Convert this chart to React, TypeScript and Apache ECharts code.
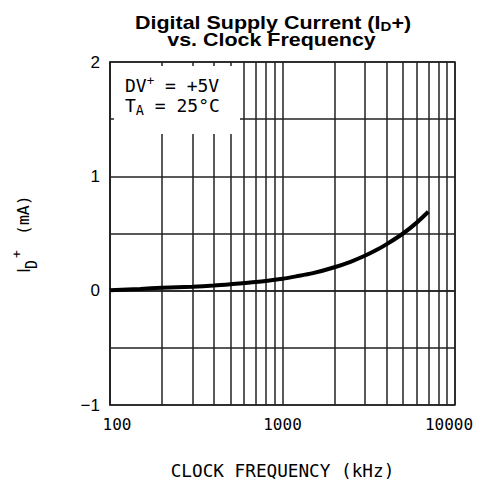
import React, { useEffect, useRef } from "react";
import * as echarts from "echarts";

const freqs = [100, 150, 200, 300, 400, 500, 700, 1000, 1200, 1500, 2000, 2500, 3000, 3500, 4000, 5000, 6000, 7000];
const currents = [0.003, 0.015, 0.025, 0.035, 0.045, 0.056, 0.075, 0.105, 0.125, 0.153, 0.205, 0.255, 0.305, 0.355, 0.405, 0.5, 0.595, 0.69];
const minorFreqs = [200, 300, 400, 500, 600, 700, 800, 900, 2000, 3000, 4000, 5000, 6000, 7000, 8000, 9000];
const xTickLabels: Record<number, string> = { 100: "100", 1000: "1000", 10000: "10000" };
const yTickLabels: Record<string, string> = { "-1": "\u22121", "0": "0", "1": "1", "2": "2" };

const MONO = "DejaVu Sans Mono";
const SANS = "Liberation Sans";
const LINE = "#222";

export default function App() {
  const ref = useRef<HTMLDivElement>(null);
  useEffect(() => {
    if (!ref.current) return;
    document.body.style.margin = "0";
    const chart = echarts.init(ref.current, null, { renderer: "svg" });
    chart.setOption({
      animation: false,
      grid: {
        left: 110,
        right: 26,
        top: 62,
        bottom: 79,
        show: true,
        borderColor: LINE,
        borderWidth: 1.5,
        backgroundColor: "transparent",
      },
      xAxis: {
        type: "log",
        logBase: 10,
        min: 100,
        max: 10000,
        axisLine: { show: true, lineStyle: { color: LINE, width: 1.5 } },
        axisTick: { show: false },
        splitLine: { show: true, lineStyle: { color: LINE, width: 1.5 } },
        axisLabel: {
          margin: 11,
          fontFamily: MONO,
          fontSize: 16,
          color: "#000",
          formatter: (v: number) => {
            const s = xTickLabels[Math.round(v)] ?? "";
            if (Math.round(v) === 100) return "{l|" + s + "}";
            if (Math.round(v) === 10000) return "{r|" + s + "}";
            return "{m|" + s + "}";
          },
          rich: {
            l: { fontFamily: MONO, fontSize: 16, color: "#000", padding: [0, 0, 0, 14] },
            m: { fontFamily: MONO, fontSize: 16, color: "#000" },
            r: { fontFamily: MONO, fontSize: 16, color: "#000", padding: [0, 12, 0, 0] },
          },
        },
        name: "CLOCK FREQUENCY (kHz)",
        nameLocation: "middle",
        nameGap: 57,
        nameTextStyle: { fontFamily: MONO, fontSize: 17.7, color: "#000" },
      },
      yAxis: {
        type: "value",
        min: -1,
        max: 2,
        interval: 0.5,
        axisLine: { show: true, lineStyle: { color: LINE, width: 1.5 } },
        axisTick: { show: false },
        splitLine: { show: true, lineStyle: { color: LINE, width: 1.5 } },
        axisLabel: {
          margin: 10,
          fontFamily: SANS,
          fontSize: 17,
          color: "#000",
          formatter: (v: number) => yTickLabels[String(v)] ?? "",
        },
      },
      series: [
        {
          type: "line",
          data: [],
          z: 1,
          markLine: {
            silent: true,
            symbol: ["none", "none"],
            label: { show: false },
            lineStyle: { color: LINE, width: 1.5, type: "solid" },
            data: minorFreqs.map((f) => ({ xAxis: f })),
          },
        },
        {
          type: "line",
          z: 5,
          smooth: 0.3,
          showSymbol: false,
          lineStyle: { color: "#000", width: 4 },
          data: freqs.map((f, i) => [f, currents[i]]),
        },
      ],
      graphic: [
        {
          type: "rect",
          z: 50,
          shape: { x: 114, y: 66, width: 126, height: 68 },
          style: { fill: "#fff" },
        },
        {
          type: "text",
          z: 60,
          left: 125,
          top: 74,
          style: {
            text: "DV{sup|+} = +5V",
            fontFamily: MONO,
            fontSize: 18,
            fill: "#000",
            rich: {
              sup: { fontFamily: MONO, fontSize: 12.5, fill: "#000", padding: [0, 0, 9, 0] },
            },
          },
        },
        {
          type: "text",
          z: 60,
          left: 125,
          top: 96,
          style: {
            text: "T{sub|A} = 25\u00B0C",
            fontFamily: MONO,
            fontSize: 18,
            fill: "#000",
            rich: {
              sub: { fontFamily: MONO, fontSize: 13.5, fill: "#000", padding: [9, 0, 0, 0] },
            },
          },
        },
        {
          type: "text",
          z: 60,
          x: 273,
          y: 22.5,
          scaleX: 1.16,
          style: {
            text: "Digital Supply Current (I{sub|D}+)",
            fontFamily: SANS,
            fontWeight: "bold",
            fontSize: 18.5,
            fill: "#000",
            align: "center",
            verticalAlign: "middle",
            rich: {
              sub: { fontFamily: SANS, fontWeight: "bold", fontSize: 13, fill: "#000", padding: [7, 0, 0, 0] },
            },
          },
        },
        {
          type: "text",
          z: 60,
          x: 271.5,
          y: 40,
          scaleX: 1.16,
          style: {
            text: "vs. Clock Frequency",
            fontFamily: SANS,
            fontWeight: "bold",
            fontSize: 18.5,
            fill: "#000",
            align: "center",
            verticalAlign: "middle",
          },
        },
        {
          type: "group",
          x: 31,
          y: 272,
          rotation: Math.PI / 2,
          children: [
            {
              type: "text",
              x: -1,
              y: -7.5,
              style: { text: "I", fontFamily: SANS, fontSize: 18, fill: "#000", align: "left", verticalAlign: "middle" },
            },
            {
              type: "text",
              x: 3,
              y: 1,
              style: { text: "D", fontFamily: MONO, fontSize: 15, fill: "#000", align: "left", verticalAlign: "middle" },
            },
            {
              type: "text",
              x: 14,
              y: -15,
              style: { text: "+", fontFamily: MONO, fontSize: 13, fill: "#000", align: "left", verticalAlign: "middle" },
            },
            {
              type: "text",
              x: 37,
              y: -8,
              style: { text: "(mA)", fontFamily: MONO, fontSize: 16.5, fill: "#000", align: "left", verticalAlign: "middle" },
            },
          ],
        },
      ],
    });
    return () => chart.dispose();
  }, []);
  return <div ref={ref} style={{ width: 481, height: 485 }} />;
}
